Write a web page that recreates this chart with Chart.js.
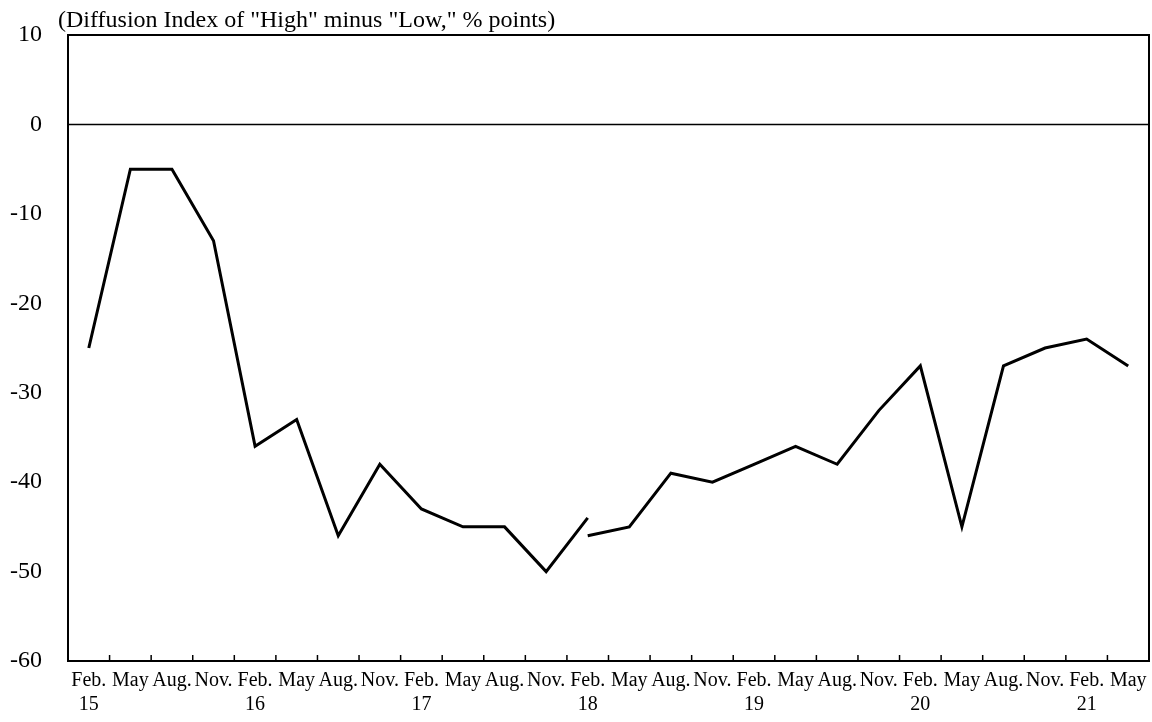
<!DOCTYPE html>
<html>
<head>
<meta charset="utf-8">
<script src="https://cdn.jsdelivr.net/npm/chart.js@4"></script>
<style>
  html, body { margin: 0; padding: 0; background: #fff; }
  #wrap { width: 1152px; height: 722px; position: relative; }
</style>
</head>
<body>
<div id="wrap"><canvas id="diChart"></canvas></div>
<script>
// quarterly survey months, year shown under each Feb.
const months = ['Feb.', 'May', 'Aug.', 'Nov.'];
const years = ['15', '16', '17', '18', '19', '20', '21'];

// old basis, up to Feb. 18
const oldSeries = [-25, -5, -5, -13, -36, -33, -46, -38, -43, -45, -45, -50, -44];
// new basis, from Feb. 18
const newSeries = [-46, -45, -39, -40, -38, -36, -38, -32, -27, -45, -27, -25, -24, -27];

const yTicks = [10, 0, -10, -20, -30, -40, -50, -60];
const unitNote = '(Diffusion Index of "High" minus "Low," % points)';

const labels = [];
years.forEach((y) => {
    months.forEach((m, i) => {
        labels.push([m, i === 0 ? y : '']);
    });
});
labels.length = oldSeries.length - 1 + newSeries.length; // ends at May 21

const oldData = labels.map((_, i) => (i < oldSeries.length ? oldSeries[i] : null));
const newStart = oldSeries.length - 1;
const newData = labels.map((_, i) => (i >= newStart ? newSeries[i - newStart] : null));

// frame, zero line, inward x ticks and unit note
const framePlugin = {
    id: 'frame',
    afterDatasetsDraw(chart) {
        const { ctx, chartArea: a, scales } = chart;
        ctx.save();
        ctx.strokeStyle = '#000';
        ctx.lineWidth = 2;
        ctx.strokeRect(a.left, a.top, a.right - a.left, a.bottom - a.top);

        const y0 = scales.y.getPixelForValue(0);
        ctx.lineWidth = 1.5;
        ctx.beginPath();
        ctx.moveTo(a.left, y0);
        ctx.lineTo(a.right, y0);
        ctx.stroke();

        const x = scales.x;
        for (let i = 0; i < labels.length - 1; i++) {
            const bx = (x.getPixelForValue(i) + x.getPixelForValue(i + 1)) / 2;
            ctx.beginPath();
            ctx.moveTo(bx, a.bottom);
            ctx.lineTo(bx, a.bottom - 6);
            ctx.stroke();
        }

        ctx.fillStyle = '#000';
        ctx.font = '24px "Liberation Serif"';
        ctx.textAlign = 'left';
        ctx.textBaseline = 'alphabetic';
        ctx.fillText(unitNote, a.left - 10, a.top - 8);
        ctx.restore();
    },
};

const lineStyle = {
    borderColor: '#000',
    borderWidth: 3,
    pointRadius: 0,
    tension: 0,
    spanGaps: false,
    fill: false,
};

new Chart(document.getElementById('diChart').getContext('2d'), {
    type: 'line',
    data: {
        labels: labels,
        datasets: [
            Object.assign({ label: 'old', data: oldData }, lineStyle),
            Object.assign({ label: 'new', data: newData }, lineStyle),
        ],
    },
    options: {
        responsive: true,
        maintainAspectRatio: false,
        animation: false,
        layout: { padding: { top: 35, right: 3, left: 0, bottom: 5 } },
        plugins: {
            legend: { display: false },
            tooltip: { enabled: false },
        },
        scales: {
            x: {
                offset: true,
                grid: { display: false },
                border: { display: false },
                ticks: {
                    color: '#000',
                    font: { family: 'Liberation Serif', size: 20 },
                    maxRotation: 0,
                    autoSkip: false,
                    padding: 0,
                },
            },
            y: {
                min: -60,
                max: 10,
                afterBuildTicks: (scale) => {
                    scale.ticks = yTicks.map((v) => ({ value: v }));
                },
                afterFit: (scale) => {
                    scale.width = 68;
                    scale.paddingTop = 0;
                    scale.paddingBottom = 0;
                },
                grid: { display: false, drawTicks: false },
                border: { display: false },
                ticks: {
                    color: '#000',
                    font: { family: 'Liberation Serif', size: 24 },
                    padding: 26,
                },
            },
        },
    },
    plugins: [framePlugin],
});
</script>
</body>
</html>
